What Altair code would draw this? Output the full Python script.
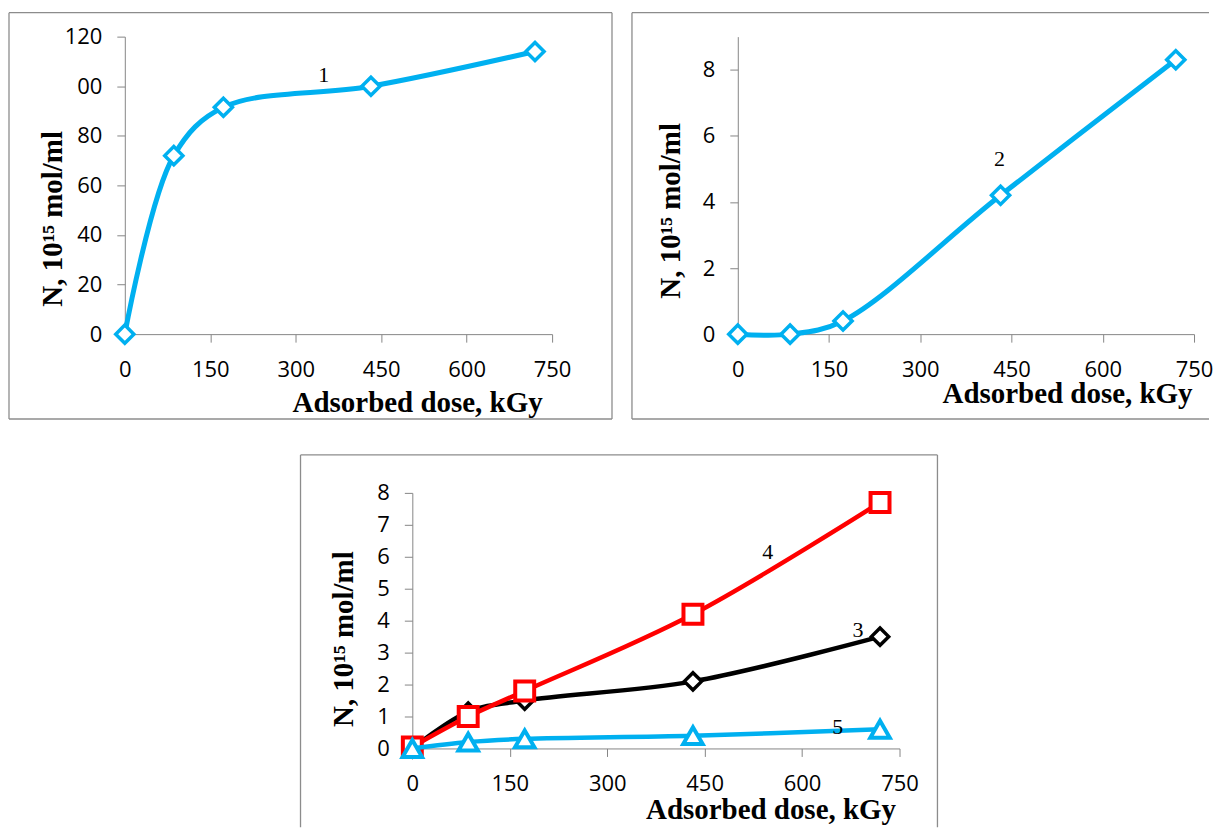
import altair as alt
import pandas as pd

# ---- data ----
dose = [0, 86, 173, 432, 720]
series1 = [0, 72, 91.5, 100, 114]
series2 = [0, 0, 0.4, 4.2, 8.3]
series3 = [0, 1.15, 1.5, 2.1, 3.5]
series4 = [0.05, 1.0, 1.8, 4.2, 7.7]
series5 = [0, 0.2, 0.3, 0.4, 0.6]

x_ticks = [0, 150, 300, 450, 600, 750]
y_ticks_1 = [0, 20, 40, 60, 80, 100, 120]
y_ticks_2 = [0, 2, 4, 6, 8]
y_ticks_3 = [0, 1, 2, 3, 4, 5, 6, 7, 8]

# curve number labels (text, dose, value)
lab_text_top_left = ["1"]
lab_x_top_left = [349]
lab_y_top_left = [104.6]
lab_text_top_right = ["2"]
lab_x_top_right = [430]
lab_y_top_right = [5.3]
lab_text_bottom = ["4", "3", "5"]
lab_x_bottom = [547, 686, 655]
lab_y_bottom = [6.15, 3.7, 0.66]

X_TITLE = "Adsorbed dose, kGy"
Y_TITLE = "N, 10\u00b9\u2075 mol/ml"

CYAN = "#00B0F0"
RED = "#FF0000"
BLACK = "#000000"
GRAY = "#868686"
FRAME = "#8C8C8C"
SERIF = "Liberation Serif"


def xaxis(tx, ty):
    return alt.Axis(values=x_ticks, title=X_TITLE, titleX=tx, titleY=ty,
                    titleAlign="right", titleBaseline="alphabetic",
                    labelPadding=17, grid=False, labelFlush=False, labelOverlap=False)


def yaxis(vals, tx, ty, expr=None):
    kw = dict(values=vals, title=Y_TITLE, titleX=tx, titleY=ty, titleAngle=270,
              titleAlign="center", titleBaseline="alphabetic",
              labelPadding=15, grid=False, labelFlush=False, labelOverlap=False)
    if expr is not None:
        kw["labelExpr"] = expr
    return alt.Axis(**kw)


def one():
    return pd.DataFrame({"k": [0]})


def xenc(field, xax):
    return alt.X(f"{field}:Q", scale=alt.Scale(domain=[0, 750], nice=False, zero=True), axis=xax)


def yenc(field, yax, ydom):
    return alt.Y(f"{field}:Q", scale=alt.Scale(domain=ydom, nice=False, zero=True), axis=yax)


def series_layers(df, ycol, color, shape, size, sw_line, sw_pt, xax, yax, ydom):
    base = alt.Chart(df).encode(x=xenc("dose", xax), y=yenc(ycol, yax, ydom))
    line = base.mark_line(color=color, strokeWidth=sw_line, interpolate="catmull-rom")
    pts = base.mark_point(shape=shape, filled=True, fill="white", stroke=color,
                          strokeWidth=sw_pt, size=size, opacity=1)
    return [line, pts]


def labels(texts, xs, ys, xax, yax, ydom):
    df = pd.DataFrame({"t": texts, "dose": xs, "lv": ys})
    return alt.Chart(df).mark_text(font=SERIF, fontSize=22, color="black").encode(
        x=xenc("dose", xax), y=yenc("lv", yax, ydom), text="t:N")


def hrule(x1, x2, y):
    return alt.Chart(one()).mark_rule(color=FRAME, strokeWidth=1.3).encode(
        x=alt.value(x1), x2=alt.value(x2), y=alt.value(y))


def vrule(x, y1, y2):
    return alt.Chart(one()).mark_rule(color=FRAME, strokeWidth=1.3).encode(
        x=alt.value(x), y=alt.value(y1), y2=alt.value(y2))


# ---- top-left panel ----
df1 = pd.DataFrame({"dose": dose, "v": series1})
x1 = xaxis(418, 77)
y1 = yaxis(y_ticks_1, -63, 182, "datum.value == 100 ? '00' : datum.label")
tl = alt.layer(
    hrule(-116, 488, -24), hrule(-116, 488, 383), vrule(-116, -24, 383), vrule(488, -24, 383),
    *series_layers(df1, "v", CYAN, "diamond", 330, 5, 3.5, x1, y1, [0, 120]),
    labels(lab_text_top_left, lab_x_top_left, lab_y_top_left, x1, y1, [0, 120]),
).properties(width=428, height=298)

# ---- top-right panel ----
df2 = pd.DataFrame({"dose": dose, "v": series2})
x2 = xaxis(455, 68)
y2 = yaxis(y_ticks_2, -58, 174)
tr = alt.layer(
    hrule(-106, 472, -24), hrule(-106, 472, 383), vrule(-106, -24, 383),
    *series_layers(df2, "v", CYAN, "diamond", 330, 5, 3.5, x2, y2, [0, 9]),
    labels(lab_text_top_right, lab_x_top_right, lab_y_top_right, x2, y2, [0, 9]),
).properties(width=457, height=298)

# ---- bottom panel ----
df3 = pd.DataFrame({"dose": dose, "a": series3, "b": series4, "c": series5})
xb = xaxis(484, 70)
yb = yaxis(y_ticks_3, -60, 146)
bottom = alt.layer(
    hrule(-112, 526, -38), vrule(-112, -38, 335), vrule(526, -38, 335),
    *series_layers(df3, "a", BLACK, "diamond", 300, 4.5, 3.5, xb, yb, [0, 8]),
    *series_layers(df3, "b", RED, "square", 360, 4.5, 4, xb, yb, [0, 8]),
    *series_layers(df3, "c", CYAN, "triangle-up", 380, 4.5, 4, xb, yb, [0, 8]),
    labels(lab_text_bottom, lab_x_bottom, lab_y_bottom, xb, yb, [0, 8]),
).properties(width=488, height=256)

# invisible cell that pushes the bottom panel to the right
spacer = alt.Chart(one()).mark_point(opacity=0).encode(
    x=alt.value(0), y=alt.value(0)).properties(width=288, height=256)

top_row = alt.hconcat(tl, tr, spacing=186, bounds="flush")
bottom_row = alt.hconcat(spacer, bottom, spacing=0, bounds="flush")

chart = alt.vconcat(top_row, bottom_row, spacing=34, bounds="full").properties(
    padding={"left": 0, "top": 3, "right": 0, "bottom": 0},
    background="white",
).configure_view(strokeWidth=0).configure_axis(
    labelFont="Open Sans", labelFontSize=22, labelColor="black",
    domainColor=GRAY, tickColor=GRAY, tickSize=8, domainWidth=1, tickWidth=1,
    titleFont=SERIF, titleFontSize=29, titleFontWeight="bold", titleColor="black",
)

chart.save("out.html", embed_options={"renderer": "svg", "actions": False})
